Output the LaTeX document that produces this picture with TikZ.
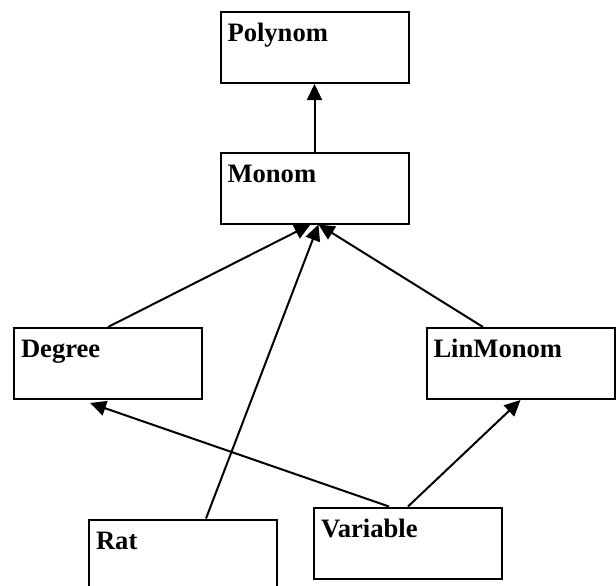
\documentclass[tikz,border=0pt]{standalone}
\usepackage{fontspec}
\setmainfont{Liberation Serif}
\usepackage{tikz}
\usetikzlibrary{arrows.meta, positioning}

\begin{document}
\begin{tikzpicture}[x=0.5pt, y=-0.5pt,
    classbox/.style={draw, line width=1pt, rectangle, inner xsep=3.5pt, inner ysep=0pt,
        text width=87pt, text height=14.75pt, text depth=20.75pt, align=left,
        font=\fontsize{13.3pt}{15pt}\selectfont\bfseries},
    inherit/.style={line width=1pt, -{Triangle[length=8pt, width=7.5pt]}}]
            % Canvas
            \useasboundingbox (0, 0) rectangle (616, 585);
            \clip (0, 0) rectangle (616, 585);
            
            % Classes
            \node[classbox] (polynom) at (314.5, 47.5) {Polynom};
            \node[classbox] (monom) at (314.5, 188) {Monom};
            \node[classbox] (degree) at (108, 363.5) {Degree};
            \node[classbox] (linmonom) at (520.5, 363.5) {LinMonom};
            \node[classbox] (rat) at (183, 555) {Rat};
            \node[classbox] (variable) at (408, 543) {Variable};
            
            % Inheritance
            \draw[inherit] (monom.north) -- (polynom.south);
            \draw[inherit] (degree.north) -- ([xshift=-2pt]monom.south);
            \draw[inherit] ([xshift=11.5pt]rat.north) -- ([xshift=2pt]monom.south);
            \draw[inherit] ([xshift=-18.75pt]linmonom.north) -- ([xshift=2pt]monom.south);
            \draw[inherit] ([xshift=-9.5pt]variable.north) -- ([xshift=-9pt, yshift=-1.5pt]degree.south);
            \draw[inherit] (variable.north) -- (linmonom.south);
        \end{tikzpicture}
\end{document}
